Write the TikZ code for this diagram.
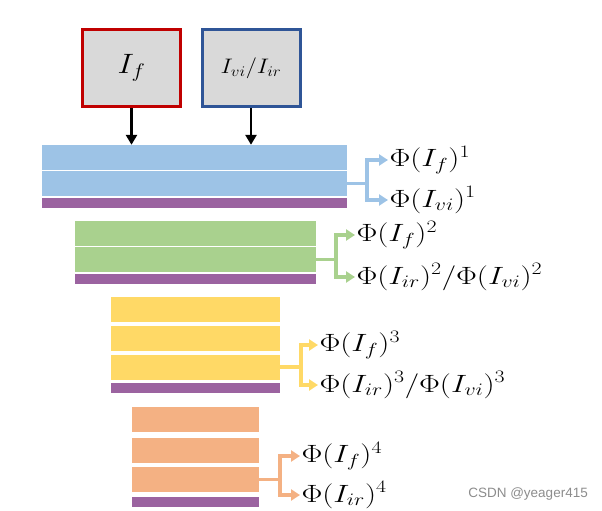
\RequirePackage{fix-cm}
\documentclass[tikz,border=0pt]{standalone}
\usepackage{amsmath}
\usepackage{fontspec}
\usepackage{tikz}
\usetikzlibrary{arrows.meta, positioning}
\newfontfamily\wmfont{Liberation Sans}
\definecolor{cblue}{HTML}{9DC3E6}
\definecolor{cgreen}{HTML}{A9D18E}
\definecolor{cyellow}{HTML}{FFD966}
\definecolor{corange}{HTML}{F4B183}
\definecolor{cpurple}{HTML}{9B63A0}
\definecolor{cred}{HTML}{C00000}
\definecolor{cnavy}{HTML}{2F5597}
\definecolor{cgrey}{HTML}{D9D9D9}
\definecolor{cmark}{HTML}{8C8C8C}

\begin{document}
\begin{tikzpicture}[
    x=1pt, y=-1pt,
    inbox/.style={rectangle, minimum width=98pt, minimum height=77pt,
                  fill=cgrey, line width=3pt, inner sep=0pt},
    intxt/.style={inner sep=0pt, xscale=1.15, transform shape},
    lay/.style={rectangle, minimum height=25pt, inner sep=0pt},
    bar/.style={rectangle, minimum height=10pt, inner sep=0pt, fill=cpurple},
    down/.style={line width=2.8pt, -{Triangle[length=10pt, width=11pt]}},
    conn/.style={line width=3.5pt, -{Triangle[length=9pt, width=11pt]}},
    outlbl/.style={anchor=west, inner sep=1pt, xscale=1.25, transform shape,
                   font=\fontsize{25}{28}\selectfont},
]
\useasboundingbox (0,0) rectangle (602,511);

% inputs
\node[inbox, draw=cred]  (inf) at (131.5,68) {};
\node[inbox, draw=cnavy] (inv) at (251,68)   {};
\node[intxt, font=\fontsize{28}{32}\selectfont] (tf) at (inf.center) {$I_f$};
\node[intxt, font=\fontsize{21}{24}\selectfont] (tv) at (inv.center) {$I_{vi}/I_{ir}$};

% stage 1
\node[lay, fill=cblue, minimum width=305pt] (b1a) at (194.5,157.5) {};
\node[lay, fill=cblue, minimum width=305pt] (b1b) at (194.5,183.5) {};
\node[bar, minimum width=305pt]             (b1p) at (194.5,203)   {};

% stage 2
\node[lay, fill=cgreen, minimum width=241pt] (b2a) at (195.5,233)   {};
\node[lay, fill=cgreen, minimum width=241pt] (b2b) at (195.5,259.5) {};
\node[bar, minimum width=241pt]              (b2p) at (195.5,279)   {};

% stage 3
\node[lay, fill=cyellow, minimum width=169pt] (b3a) at (195.5,309) {};
\node[lay, fill=cyellow, minimum width=169pt] (b3b) at (195.5,338) {};
\node[lay, fill=cyellow, minimum width=169pt] (b3c) at (195.5,367) {};
\node[bar, minimum width=169pt]               (b3p) at (195.5,388) {};

% stage 4
\node[lay, fill=corange, minimum width=127pt] (b4a) at (195.5,419)   {};
\node[lay, fill=corange, minimum width=127pt] (b4b) at (195.5,450)   {};
\node[lay, fill=corange, minimum width=127pt] (b4c) at (195.5,479.5) {};
\node[bar, minimum width=127pt]               (b4p) at (195.5,501.5) {};

\draw[down] (inf.south) -- (inf.south |- b1a.north);
\draw[down] (inv.south) -- (inv.south |- b1a.north);

% outputs
\node[outlbl] (o1f) at (388,160) {$\Phi(I_f)^1$};
\node[outlbl] (o1v) at (388,200) {$\Phi(I_{vi})^1$};
\node[outlbl] (o2f) at (355,235) {$\Phi(I_f)^2$};
\node[outlbl] (o2v) at (355,277) {$\Phi(I_{ir})^2/\Phi(I_{vi})^2$};
\node[outlbl] (o3f) at (318,345) {$\Phi(I_f)^3$};
\node[outlbl] (o3v) at (318,385) {$\Phi(I_{ir})^3/\Phi(I_{vi})^3$};
\node[outlbl] (o4f) at (300,456) {$\Phi(I_f)^4$};
\node[outlbl] (o4v) at (300,495) {$\Phi(I_{ir})^4$};

\coordinate (j1) at (367,183.5);
\coordinate (j2) at (336,259.5);
\coordinate (j3) at (301,367);
\coordinate (j4) at (280,479.5);

\draw[conn, cblue, -] (b1b.east) -- (j1);
\draw[conn, cblue] (j1) |- (o1f.west);
\draw[conn, cblue] (j1) |- (o1v.west);
\draw[conn, cgreen, -] (b2b.east) -- (j2);
\draw[conn, cgreen] (j2) |- (o2f.west);
\draw[conn, cgreen] (j2) |- (o2v.west);
\draw[conn, cyellow, -] (b3c.east) -- (j3);
\draw[conn, cyellow] (j3) |- (o3f.west);
\draw[conn, cyellow] (j3) |- (o3v.west);
\draw[conn, corange, -] (b4c.east) -- (j4);
\draw[conn, corange] (j4) |- (o4f.west);
\draw[conn, corange] (j4) |- (o4v.west);

\node[font=\wmfont\fontsize{13.5}{15}\selectfont, text=cmark, anchor=east, inner sep=0pt] (wm) at (588,494) {CSDN @yeager415};
\end{tikzpicture}
\end{document}
